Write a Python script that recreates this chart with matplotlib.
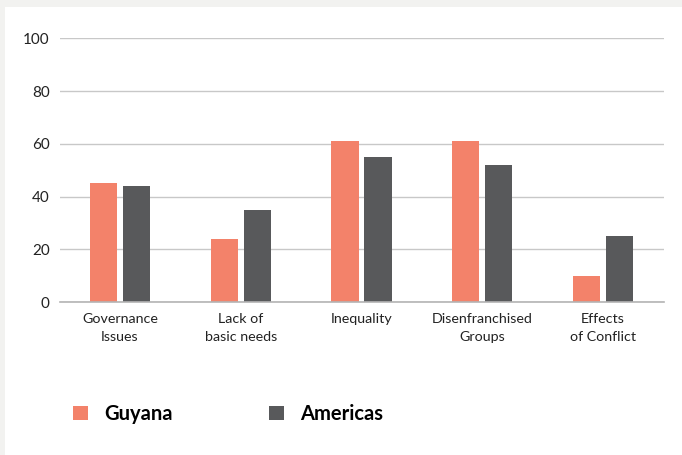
import numpy as np
import matplotlib.pyplot as plt
from matplotlib.patches import Rectangle

# Data
categories = ['Governance\nIssues', 'Lack of\nbasic needs', 'Inequality',
              'Disenfranchised\nGroups', 'Effects\nof Conflict']
guyana = [45, 24, 61, 61, 10]
americas = [44, 35, 55, 52, 25]
series_names = ['Guyana', 'Americas']
colors = ['#f3826a', '#58595b']

plt.rcParams['font.family'] = ['Lato', 'DejaVu Sans']

fig = plt.figure(figsize=(6.82, 4.55), dpi=100, facecolor='#f2f2f0')
# white panel over the light grey frame
fig.patches.append(Rectangle((5 / 682, 0), 1, 1 - 7 / 455, transform=fig.transFigure,
                             facecolor='white', edgecolor='none', zorder=-10))

ax = fig.add_axes([59.5 / 682, 1 - 302 / 455, 604 / 682, 263.5 / 455])
ax.set_facecolor('none')
ax.set_zorder(1)

x = np.arange(len(categories))
w = 0.2236
off = 0.1366
ax.bar(x - off, guyana, w, color=colors[0], label=series_names[0], zorder=3)
ax.bar(x + off, americas, w, color=colors[1], label=series_names[1], zorder=3)

ax.set_xlim(-0.5, len(categories) - 0.5)
ax.set_ylim(0, 100)
ax.set_yticks(range(0, 101, 20))
ax.set_xticks(x)
ax.set_xticklabels(categories, fontsize=10.3, color='#222222', linespacing=1.55)
ax.tick_params(axis='y', labelsize=11, colors='#222222', length=0, pad=7)
ax.tick_params(axis='x', length=0, pad=8)
ax.yaxis.grid(True, color='#c8c8c8', linewidth=1, zorder=0)
for s in ['top', 'right', 'left']:
    ax.spines[s].set_visible(False)
ax.spines['bottom'].set_color('#b4b4b4')
ax.spines['bottom'].set_linewidth(1.2)
ax.spines['bottom'].set_zorder(4)

leg = ax.legend(loc='center left', bbox_to_anchor=(73 / 682, 1 - 414 / 455),
                bbox_transform=fig.transFigure, ncol=2, frameon=False,
                prop={'weight': 'bold', 'size': 14.5}, handlelength=0.75,
                handleheight=0.75, handletextpad=0.8, columnspacing=4.8,
                borderaxespad=0, borderpad=0)

fig.savefig('out.png', dpi=100, facecolor=fig.get_facecolor())
